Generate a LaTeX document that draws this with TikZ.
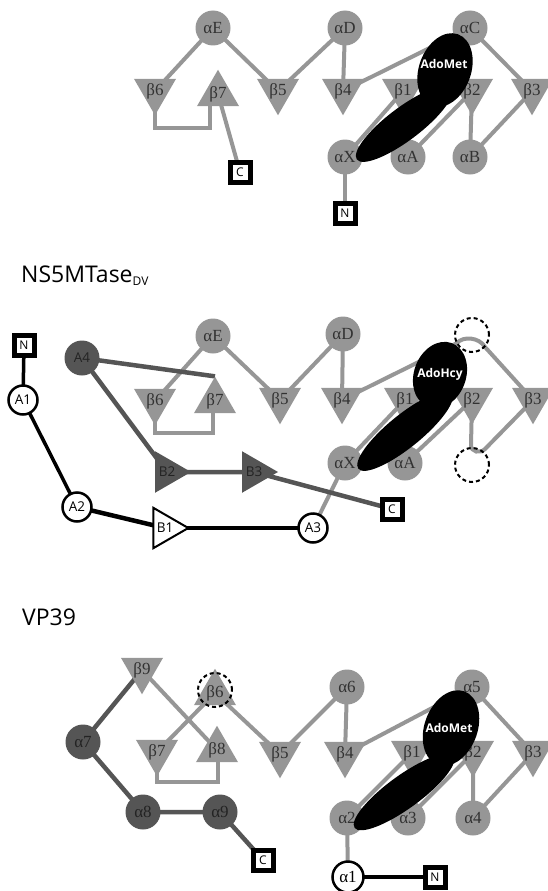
\documentclass[tikz,border=0pt]{standalone}
\usepackage{fontspec}
\setmainfont{Open Sans}
\newfontfamily\grk{Liberation Serif}
\usetikzlibrary{shapes.geometric,backgrounds}
\definecolor{lg}{RGB}{150,150,150}
\definecolor{dg}{RGB}{85,85,85}
\definecolor{tg}{RGB}{50,50,50}
\definecolor{td}{RGB}{35,35,35}
\begin{document}
\begin{tikzpicture}[x=1pt,y=-1pt,
  gc/.style={circle,fill=lg,minimum size=35pt,inner sep=0pt,text=tg,font=\grk\fontsize{17}{17}\selectfont},
  dc/.style={gc,fill=dg,text=td},
  wc/.style={circle,draw=black,line width=2.5pt,fill=white,minimum size=29pt,inner sep=0pt,font=\fontsize{13.5}{13.5}\selectfont},
  tri/.style={regular polygon,regular polygon sides=3,minimum size=48pt,inner sep=0pt,fill=lg,text=tg,font=\grk\fontsize{17}{17}\selectfont},
  tdn/.style={tri,shape border rotate=180},
  tup/.style={tri},
  trt/.style={tri,shape border rotate=-90,font=\fontsize{13.5}{13.5}\selectfont},
  sq/.style={rectangle,draw=black,line width=5pt,fill=white,minimum size=20pt,inner sep=0pt,font=\fontsize{12}{12}\selectfont},
  gl/.style={draw=lg,line width=4pt},
  dl/.style={draw=dg,line width=4.5pt},
  bl/.style={draw=black,line width=3.5pt},
  blob/.style={ellipse,fill=black,inner sep=0pt},
  lbl/.style={text=white,font=\bfseries\fontsize{12}{12}\selectfont,inner sep=0pt},
  dcirc/.style={circle,draw=black,line width=2pt,dash pattern=on 4pt off 3pt,minimum size=34pt,inner sep=0pt},
  ttl/.style={anchor=base west,font=\fontsize{23}{23}\selectfont,inner sep=0pt}
]
\useasboundingbox (0,0) rectangle (548,891);

% ================= Panel 1 =================
\node[gc] (aE) at (213,28) {αE};
\node[gc] (aD) at (345,28) {αD};
\node[gc] (aC) at (470,28) {αC};
\node[tdn] (b6) at (155,91) {β6};
\node[tup] (b7) at (218,94) {β7};
\node[tdn] (b5) at (278,91) {β5};
\node[tdn] (b4) at (343,91) {β4};
\node[tdn] (b1) at (403,91) {β1};
\node[tdn] (b2) at (472,91) {β2};
\node[tdn] (b3) at (532,91) {β3};
\node[gc] (aX) at (345,157) {αX};
\node[gc] (aA) at (408,157) {αA};
\node[gc] (aB) at (470,157) {αB};
\node[sq] (C1) at (240,172) {C};
\node[sq] (N1) at (345,213) {N};
\coordinate (k1) at (210,128);
\node[blob,minimum width=118pt,minimum height=33pt,rotate=37] (lo1) at (404,124) {};
\node[blob,minimum width=52pt,minimum height=76pt,rotate=-20] (up1) at (445,70) {};
\node[lbl] (t1) at (444,64) {AdoMet};

\begin{scope}[on background layer]
\draw[gl] (aE.center) -- (b6.center);
\draw[gl] (aE.center) -- (b5.center) -- (aD.center) -- (b4.center) -- (aC.center) -- (b3.center);
\draw[gl] (b6.center) |- (k1) -- (k1 |- b7.center);
\draw[gl] (C1.center) -- (b7.center);
\draw[gl] (b1.center) -- (aX.center);
\draw[gl] (b2.center) -- (aA.center);
\draw[gl] (b2.center) -- (aB.center) -- (b3.center);
\draw[gl] (aX.center) -- (N1.center);
\end{scope}

% ================= Panel 2 =================
\node[ttl] (title2) at (21,282) {NS5MTase\raisebox{-3pt}{\fontsize{12}{12}\selectfont DV}};
\node[gc] (aE2) at (213,336) {αE};
\node[gc] (aD2) at (343,334) {αD};
\node[tdn] (b62) at (155,401) {β6};
\node[tup] (b72) at (215,401) {β7};
\node[tdn] (b52) at (280,400) {β5};
\node[tdn] (b42) at (342,400) {β4};
\node[tdn] (b12) at (405,400) {β1};
\node[tdn] (b22) at (472,400) {β2};
\node[tdn] (b32) at (533,400) {β3};
\node[gc] (aX2) at (345,463) {αX};
\node[gc] (aA2) at (405,463) {αA};
\node[sq] (N2) at (24,345) {N};
\node[wc] (A1) at (23,400) {A1};
\node[wc] (A2) at (77,507) {A2};
\node[trt,fill=white,draw=black,line width=2pt,minimum size=45pt,text=black] (B1) at (165,528) {B1};
\node[wc] (A3) at (313,528) {A3};
\node[dc,font=\fontsize{13.5}{13.5}\selectfont] (A4) at (82,358) {A4};
\node[trt,fill=dg,text=td] (B2) at (167,472) {B2};
\node[trt,fill=dg,text=td] (B3) at (254,472) {B3};
\node[sq] (C2) at (392,509) {C};
\coordinate (k2) at (213,433);
\coordinate (h1) at (457,343);
\coordinate (h2) at (485,347);
\coordinate (h3) at (471,445);
\coordinate (h4) at (485,449);
\node[blob,minimum width=120pt,minimum height=33pt,rotate=39] (lo2) at (405,431) {};
\node[blob,minimum width=52pt,minimum height=68pt,rotate=-20] (up2) at (440,375) {};
\node[lbl] (t2) at (440,374) {AdoHcy};
\node[dcirc] (d21) at (472,335) {};
\node[dcirc] (d22) at (472,465) {};

\begin{scope}[on background layer]
\draw[gl] (aE2.center) -- (b62.center);
\draw[gl] (aE2.center) -- (b52.center) -- (aD2.center) -- (b42.center) -- (h1)
  .. controls (463,336) and (479,337) .. (h2) -- (b32.center);
\draw[gl] (b62.center) |- (k2) -- (k2 |- b72.center);
\draw[gl] (b12.center) -- (aX2.center);
\draw[gl] (b22.center) -- (aA2.center);
\draw[gl] (b22.center) -- (h3) .. controls (471,452) and (480,454) .. (h4) -- (b32.center);
\draw[gl] (A3.center) -- (aX2.center);
\draw[dl] (A4.center) -- (b72.corner 1);
\draw[dl] (A4.center) -- (B2.center) -- (B3.center) -- (C2.center);
\draw[bl] (N2.center) -- (A1.center) -- (A2.center);
\draw[draw=black,line width=4.5pt] (A2.center) -- (B1.center);
\draw[bl] (B1.center) -- (A3.center);
\end{scope}

% ================= Panel 3 =================
\node[ttl] (title3) at (22,625) {VP39};
\node[tdn] (b93) at (142,670) {β9};
\node[tup] (b63) at (215,693) {β6};
\node[dc] (a7) at (83,742) {α7};
\node[tdn] (b73) at (157,752) {β7};
\node[tup] (b83) at (217,750) {β8};
\node[tdn] (b53) at (280,754) {β5};
\node[dc] (a8) at (143,812) {α8};
\node[dc] (a9) at (220,812) {α9};
\node[sq] (C3) at (263,860) {C};
\node[gc] (a6) at (347,687) {α6};
\node[gc] (a5) at (472,687) {α5};
\node[tdn] (b43) at (345,754) {β4};
\node[tdn] (b13) at (412,753) {β1};
\node[tdn] (b23) at (473,753) {β2};
\node[tdn] (b33) at (533,753) {β3};
\node[gc] (a2) at (347,818) {α2};
\node[gc] (a3) at (408,818) {α3};
\node[gc] (a4) at (473,818) {α4};
\node[wc,minimum size=31pt,font=\grk\fontsize{17}{17}\selectfont] (a1) at (348,877) {α1};
\node[sq] (N3) at (435,877) {N};
\coordinate (k3) at (218,782);
\node[blob,minimum width=122pt,minimum height=33pt,rotate=36] (lo3) at (404,792) {};
\node[blob,minimum width=53pt,minimum height=78pt,rotate=-20] (up3) at (451,728) {};
\node[lbl] (t3) at (449,728) {AdoMet};
\node[dcirc] (d3) at (215,690) {};

\begin{scope}[on background layer]
\draw[gl] (b93.center) -- (b83.center);
\draw[gl] (b73.center) -- (b63.center) -- (b53.center) -- (a6.center) -- (b43.center) -- (a5.center) -- (b33.center);
\draw[gl] (b73.center) |- (k3) -- (k3 |- b83.center);
\draw[gl] (b13.center) -- (a2.center);
\draw[gl] (b23.center) -- (a3.center);
\draw[gl] (b23.center) -- (a4.center) -- (b33.center);
\draw[gl] (a2.center) -- (a1.center);
\draw[dl] (b93.center) -- (a7.center) -- (a8.center) -- (a9.center) -- (C3.center);
\draw[bl] (a1.center) -- (N3.center);
\end{scope}
\end{tikzpicture}
\end{document}
